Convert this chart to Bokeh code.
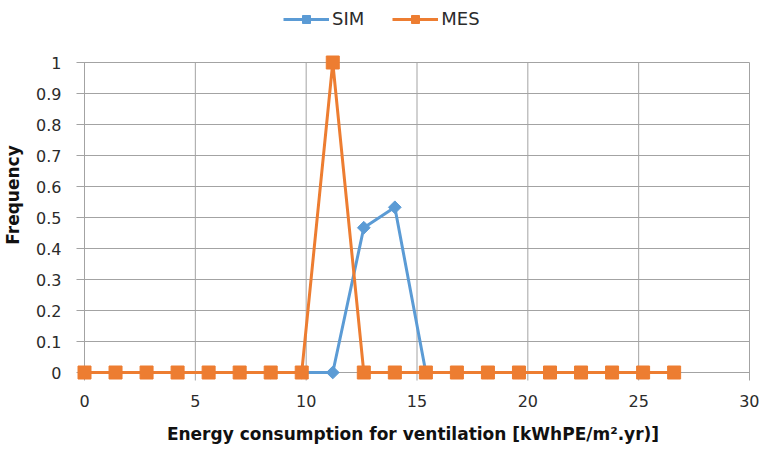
import math
from bokeh.plotting import figure
from bokeh.models import Legend, LegendItem, FixedTicker, Range1d
from bokeh.embed import file_html
from bokeh.resources import INLINE

# Data
sim_x = [5.6, 7.0, 8.4, 9.8, 11.2, 12.6, 14.0, 15.4, 16.8, 18.2, 19.6, 21.0]
sim_y = [0, 0, 0, 0, 0, 0.467, 0.533, 0, 0, 0, 0, 0]
mes_x = [0, 1.4, 2.8, 4.2, 5.6, 7.0, 8.4, 9.8, 11.2, 12.6, 14.0, 15.4, 16.8,
         18.2, 19.6, 21.0, 22.4, 23.8, 25.2, 26.6]
mes_y = [0, 0, 0, 0, 0, 0, 0, 0, 1, 0, 0, 0, 0, 0, 0, 0, 0, 0, 0, 0]
x_ticks = [0, 5, 10, 15, 20, 25, 30]
y_ticks = [0, 0.1, 0.2, 0.3, 0.4, 0.5, 0.6, 0.7, 0.8, 0.9, 1.0]

FONT = "DejaVu Sans"
GRID = "#a3a3a3"
TXT = "#2b2b2b"
BLUE = "#5B9BD5"
ORANGE = "#ED7D31"

# layout: axis region 0..30 by 0..1 occupies 665 x 310 px
XMAX, YMAX = 30.0, 1.0
PX_X = 665 / XMAX
PX_Y = 310 / YMAX
PAD_L, PAD_R, PAD_B, PAD_T = 10, 2, 10, 55
fw = 665 + PAD_L + PAD_R
fh = 310 + PAD_B + PAD_T

p = figure(frame_width=fw, frame_height=fh, output_backend="svg",
           toolbar_location=None,
           x_range=Range1d(-PAD_L / PX_X, XMAX + PAD_R / PX_X),
           y_range=Range1d(-PAD_B / PX_Y, YMAX + PAD_T / PX_Y),
           min_border_left=67, min_border_top=7, min_border_right=8,
           min_border_bottom=56)
p.outline_line_color = None
p.grid.visible = False

p.xaxis.ticker = FixedTicker(ticks=x_ticks)
p.yaxis.ticker = FixedTicker(ticks=y_ticks)
p.yaxis.major_label_overrides = {0: "0", 1.0: "1"}
for ax in (p.xaxis[0], p.yaxis[0]):
    ax.axis_line_color = None
    ax.major_tick_line_color = None
    ax.minor_tick_line_color = None
    ax.major_label_text_font = FONT
    ax.major_label_text_font_size = "16px"
    ax.major_label_text_color = TXT
    ax.axis_label_text_font = FONT
    ax.axis_label_text_font_size = "17px"
    ax.axis_label_text_font_style = "bold"
    ax.axis_label_text_color = "#111111"

p.xaxis.axis_label = "Energy consumption for ventilation [kWhPE/m\u00b2.yr)]"
p.yaxis.axis_label = "Frequency"
p.xaxis.major_label_standoff = 6
p.xaxis.axis_label_standoff = 14
p.yaxis.major_label_standoff = 7
p.yaxis.axis_label_standoff = 10

# grid lines with outward tick extensions
TICK = 8
p.segment(x0=x_ticks, y0=[-TICK / PX_Y] * len(x_ticks), x1=x_ticks,
          y1=[YMAX] * len(x_ticks), line_color=GRID, line_width=1)
p.segment(x0=[-TICK / PX_X] * len(y_ticks), y0=y_ticks,
          x1=[XMAX] * len(y_ticks), y1=y_ticks, line_color=GRID, line_width=1)

sl = p.line(sim_x, sim_y, line_color=BLUE, line_width=3)
sm = p.scatter(sim_x, sim_y, marker="square", angle=math.pi / 4, size=9,
               fill_color=BLUE, line_color=BLUE)
ml = p.line(mes_x, mes_y, line_color=ORANGE, line_width=3)
mm = p.scatter(mes_x, mes_y, marker="square", size=13, fill_color=ORANGE,
               line_color=ORANGE)

legend = Legend(items=[LegendItem(label="SIM", renderers=[sl, sm]),
                       LegendItem(label="MES", renderers=[ml, mm])],
                orientation="horizontal", location=(209, fh - 22),
                label_text_font=FONT, label_text_font_size="18px",
                label_text_color=TXT, glyph_width=46, glyph_height=20,
                label_standoff=3, spacing=28, padding=0, margin=0,
                border_line_color=None, background_fill_alpha=0)
p.add_layout(legend, "center")

open("out.html", "w").write(file_html(p, INLINE))
